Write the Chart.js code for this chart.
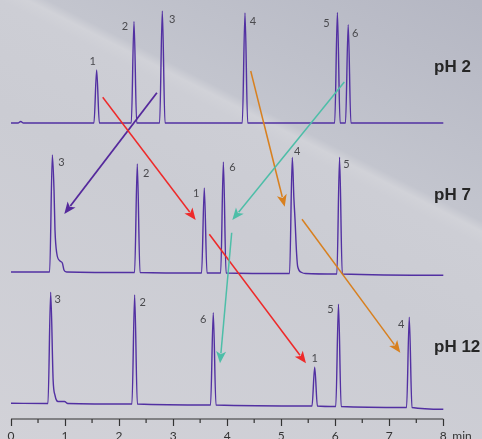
<!DOCTYPE html>
<html><head><meta charset="utf-8">
<script src="https://cdn.jsdelivr.net/npm/chart.js@4/dist/chart.umd.min.js"></script>
<style>html,body{margin:0;padding:0;background:#cfd0d7;overflow:hidden}#wrap{width:482px;height:439px;position:relative}</style>
</head><body><div id="wrap"><canvas id="c" width="482" height="439"></canvas></div>
<script>
// ---------- data (retention time in min, peak height in signal units) ----------
const traceNames = ['pH 2', 'pH 7', 'pH 12'];

const ph2Times   = [0.18, 1.585, 2.276, 2.80, 4.33, 6.04, 6.24];
const ph2Heights = [1.5, 53, 101.6, 112, 110, 110.6, 98.3];
const ph2Base    = [0, 0, 0, 0, 0, 0, 0];
const ph2Labels  = ['', '1', '2', '3', '4', '5', '6'];
const ph2Start = 0, ph2End = 0;

const ph7Times   = [0.765, 2.337, 3.577, 3.93, 5.205, 6.08];
const ph7Heights = [117, 108.5, 85, 111, 116, 116.7];
const ph7Base    = [0, -0.5, -1, -1, -1.5, -2];
const ph7Labels  = ['3', '2', '1', '6', '4', '5'];
const ph7Start = 0, ph7End = -3.3;
// peak tails: [time, signal above baseline]
const ph7Tail3 = [[0.796, 82], [0.814, 42], [0.846, 19], [0.907, 11], [0.95, 9], [0.98, 2], [1.03, 0]];
const ph7Tail4 = [[5.235, 75], [5.255, 55], [5.285, 20], [5.305, 7], [5.38, 1], [5.45, 0]];

const ph12Times   = [0.734, 2.288, 3.743, 5.62, 6.06, 7.37];
const ph12Heights = [111.2, 109, 92.3, 38.7, 102.2, 90.2];
const ph12Base    = [0, -0.5, -1.5, -2.5, -3, -4];
const ph12Labels  = ['3', '2', '6', '1', '5', '4'];
const ph12Start = 0.2, ph12End = -5.8;
const ph12Tail3 = [[0.78, 23], [0.815, 8], [0.87, 2], [0.99, 2], [1.05, 0]];

const xTickValues = [0, 1, 2, 3, 4, 5, 6, 7, 8];
const xTickLabels = ['0', '1', '2', '3', '4', '5', '6', '7', '8'];
const xUnit = 'min';

// ---------- layout / style ----------
const traceOffsets = [296, 147, 15.5];   // vertical stacking of the three chromatograms
const traceColor = '#5230a2';
const peakFoot = 0.05;                    // drawn half-width of a peak foot, min
const labelOffsets = [
  [null, [-4, -9], [-9, 5], [10, 8], [8, 8], [-11, 10.6], [7, 9]],
  [[9, 7], [9, 9], [-8, 5], [9, 5], [5, -6], [7, 7]],
  [[7, 7], [8, 7], [-10, 7], [0, -9], [-8, 5], [-8, 7]]
];
const phLabelPos = [[434, 72], [434, 200], [434, 352]];
// migration arrows: [fromTime, fromSignal, toTime, toSignal, colour, width]
const arrows = [
  [2.70, 326.3, 0.986, 205, '#55299c', 1.8],
  [1.697, 321.7, 3.418, 199, '#ee2a2a', 1.5],
  [3.670, 184.7, 5.459, 55.7, '#ee2a2a', 1.5],
  [4.436, 348, 5.065, 212.3, '#d8801f', 1.5],
  [5.385, 199.7, 7.204, 66.3, '#d8801f', 1.5],
  [6.168, 337, 4.095, 199, '#4dbea8', 1.5],
  [4.084, 186.3, 3.868, 55.7, '#4dbea8', 1.5]
];

function buildTrace(times, heights, base, start, end, tails, offset) {
  const pts = [{x: 0, y: offset + start}];
  times.forEach((t, i) => {
    pts.push({x: t - peakFoot, y: offset + base[i]});
    pts.push({x: t, y: offset + base[i] + heights[i]});
    if (tails[i]) tails[i].forEach(p => pts.push({x: p[0], y: offset + base[i] + p[1]}));
    else pts.push({x: t + peakFoot, y: offset + base[i]});
  });
  pts.push({x: 8, y: offset + end});
  return pts;
}

const traces = [
  {times: ph2Times, heights: ph2Heights, base: ph2Base, labels: ph2Labels,
   data: buildTrace(ph2Times, ph2Heights, ph2Base, ph2Start, ph2End, {}, traceOffsets[0])},
  {times: ph7Times, heights: ph7Heights, base: ph7Base, labels: ph7Labels,
   data: buildTrace(ph7Times, ph7Heights, ph7Base, ph7Start, ph7End, {0: ph7Tail3, 4: ph7Tail4}, traceOffsets[1])},
  {times: ph12Times, heights: ph12Heights, base: ph12Base, labels: ph12Labels,
   data: buildTrace(ph12Times, ph12Heights, ph12Base, ph12Start, ph12End, {0: ph12Tail3}, traceOffsets[2])}
];

const bgPlugin = {
  id: 'bg',
  beforeDraw(chart) {
    const ctx = chart.ctx, w = chart.width, h = chart.height;
    ctx.save();
    const g = ctx.createLinearGradient(66, 489, 347, -63);
    g.addColorStop(0, '#d2d2d8');
    g.addColorStop(0.5, '#cbccd3');
    g.addColorStop(0.655, '#cdced5');
    g.addColorStop(0.675, '#d1d2d8');
    g.addColorStop(0.69, '#c3c5ce');
    g.addColorStop(1, '#b5b7c3');
    ctx.fillStyle = g;
    ctx.fillRect(0, 0, w, h);
    ctx.restore();
  }
};

const decoPlugin = {
  id: 'deco',
  afterDraw(chart) {
    const ctx = chart.ctx, xs = chart.scales.x, ys = chart.scales.y;
    const bottom = chart.chartArea.bottom;
    ctx.save();
    // axis line and minor ticks
    ctx.strokeStyle = '#333';
    ctx.lineWidth = 1.2;
    ctx.beginPath();
    ctx.moveTo(xs.getPixelForValue(xTickValues[0]), bottom);
    ctx.lineTo(xs.getPixelForValue(xTickValues[xTickValues.length - 1]), bottom);
    for (let i = 0; i < xTickValues.length - 1; i++) {
      const px = xs.getPixelForValue((xTickValues[i] + xTickValues[i + 1]) / 2);
      ctx.moveTo(px, bottom);
      ctx.lineTo(px, bottom + 4);
    }
    ctx.stroke();
    ctx.fillStyle = '#333';
    ctx.font = '12px Lato, "Open Sans", sans-serif';
    ctx.textBaseline = 'middle';
    ctx.textAlign = 'left';
    ctx.fillText(xUnit, xs.getPixelForValue(8) + 9, bottom + 17.2);

    // peak labels
    ctx.font = '11px Lato, "Open Sans", sans-serif';
    ctx.fillStyle = '#4a4a4e';
    ctx.textAlign = 'center';
    traces.forEach((tr, k) => {
      tr.times.forEach((t, i) => {
        const lab = tr.labels[i];
        if (!lab) return;
        const px = xs.getPixelForValue(t);
        const py = ys.getPixelForValue(traceOffsets[k] + tr.base[i] + tr.heights[i]);
        const o = labelOffsets[k][i];
        ctx.fillText(lab, px + o[0], py + o[1]);
      });
    });

    // pH labels
    ctx.font = 'bold 17px "Liberation Sans", Arial, sans-serif';
    ctx.fillStyle = '#262626';
    ctx.textAlign = 'left';
    ctx.textBaseline = 'alphabetic';
    traceNames.forEach((n, k) => ctx.fillText(n, phLabelPos[k][0], phLabelPos[k][1]));

    // arrows
    arrows.forEach(a => {
      const x1 = xs.getPixelForValue(a[0]), y1 = ys.getPixelForValue(a[1]);
      const x2 = xs.getPixelForValue(a[2]), y2 = ys.getPixelForValue(a[3]);
      const ang = Math.atan2(y2 - y1, x2 - x1);
      const hl = 12, hw = 5;
      const bx = x2 - hl * Math.cos(ang), by = y2 - hl * Math.sin(ang);
      ctx.strokeStyle = a[4];
      ctx.fillStyle = a[4];
      ctx.lineWidth = a[5];
      ctx.beginPath();
      ctx.moveTo(x1, y1);
      ctx.lineTo(bx + 2 * Math.cos(ang), by + 2 * Math.sin(ang));
      ctx.stroke();
      ctx.beginPath();
      ctx.moveTo(x2, y2);
      ctx.lineTo(bx - hw * Math.sin(ang), by + hw * Math.cos(ang));
      ctx.lineTo(bx + 3 * Math.cos(ang), by + 3 * Math.sin(ang));
      ctx.lineTo(bx + hw * Math.sin(ang), by - hw * Math.cos(ang));
      ctx.closePath();
      ctx.fill();
    });
    ctx.restore();
  }
};

new Chart(document.getElementById('c'), {
  type: 'line',
  data: {
    datasets: traces.map((tr, k) => ({
      label: traceNames[k],
      data: tr.data,
      borderColor: traceColor,
      borderWidth: 1.4,
      pointRadius: 0,
      cubicInterpolationMode: 'monotone',
      fill: false
    }))
  },
  options: {
    responsive: false,
    animation: false,
    layout: {padding: {top: 0, left: 0, right: 0, bottom: -7.4}},
    plugins: {legend: {display: false}, tooltip: {enabled: false}},
    scales: {
      x: {
        type: 'linear',
        min: -0.2036,
        max: 8.716,
        afterBuildTicks: s => { s.ticks = xTickValues.map(v => ({value: v})); },
        grid: {display: true, drawOnChartArea: false, drawTicks: true, tickLength: 7, tickColor: '#333', tickWidth: 1.2},
        border: {display: false},
        ticks: {
          color: '#333', padding: 3, maxRotation: 0, autoSkip: false,
          font: {family: 'Lato, "Open Sans", sans-serif', size: 12},
          callback: (v, i) => xTickLabels[i]
        }
      },
      y: {display: false, min: 0, max: 419}
    }
  },
  plugins: [bgPlugin, decoPlugin]
});
</script>
</body></html>
